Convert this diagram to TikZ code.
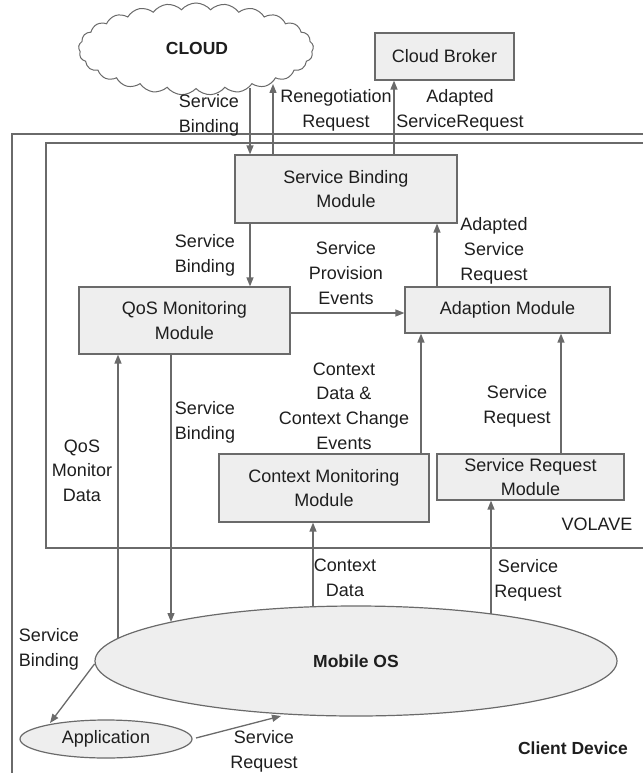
\documentclass[tikz,border=0pt]{standalone}
\usepackage{fontspec}
\setmainfont{Liberation Sans}
\usetikzlibrary{arrows.meta,shapes.geometric,shapes.symbols}
\definecolor{ln}{HTML}{6A6A6A}
\definecolor{bx}{HTML}{EEEEEE}
\definecolor{tx}{HTML}{1E1E1E}
\begin{document}
\begin{tikzpicture}[x=1pt,y=-1pt,
  every node/.style={text=tx, font=\fontsize{18}{24.7}\selectfont},
  box/.style={draw=ln, fill=bx, line width=1.2pt, inner sep=0pt, align=center},
  lbl/.style={align=center, inner sep=0pt},
  bold/.style={font=\fontsize{17.5}{24.7}\selectfont\bfseries},
  arr/.style={draw=ln, line width=1.3pt, -{Triangle[length=9pt,width=7pt]}},
  frame/.style={draw=ln}
  ]
\useasboundingbox (0,0) rectangle (642,773);
% frames
\draw[frame, line width=2.2pt] (12,774) -- (12,134) -- (644,134);
\draw[frame, line width=1.2pt] (644,143) -- (46,143) -- (46,548) -- (644,548);
% nodes
\node[cloud, draw=ln, fill=white, line width=1pt, cloud puffs=25, cloud puff arc=100, aspect=2.6,
      minimum width=235, minimum height=92, inner sep=0pt] (cloud) at (196,49) {};
\node[bold] (cloudt) at (197,48) {CLOUD};
\node[box, minimum width=139, minimum height=47] (broker) at (444.5,56.5) {Cloud Broker};
\node[box, minimum width=222, minimum height=68] (sbm) at (346,189) {Service Binding\\Module};
\node[box, minimum width=211, minimum height=67] (qos) at (184.5,320.5) {QoS Monitoring\\Module};
\node[box, minimum width=205, minimum height=46] (adapt) at (507.5,310) {Adaption Module};
\node[box, minimum width=210, minimum height=68] (cmm) at (324,488) {Context Monitoring\\Module};
\node[box, minimum width=187, minimum height=46] (srm) at (530.5,477) {Service Request\\Module};
\node[ellipse, draw=ln, fill=bx, line width=1.2pt, minimum width=522, minimum height=110, inner sep=0pt,
      bold] (mos) at (356,661) {Mobile OS};
\node[ellipse, draw=ln, fill=bx, line width=1.2pt, minimum width=172, minimum height=38, inner sep=0pt]
      (app) at (106,739) {Application};
% coordinates
\coordinate (cl1) at (250,88);
\coordinate (cl2) at (273,84);
\coordinate (xb) at (394,0);
\coordinate (x250) at (250,0);
\coordinate (x437) at (437,0);
\coordinate (y312) at (0,313);
\coordinate (x421) at (421,0);
\coordinate (x561) at (561,0);
\coordinate (os1) at (118,638);
\coordinate (os2) at (171,622);
\coordinate (os3) at (313,606.7);
\coordinate (os4) at (491,614);
\coordinate (os5) at (94.5,664);
\coordinate (os6) at (281,716);
\coordinate (ap1) at (50,723);
\coordinate (ap2) at (196,738);
% connectors
\draw[arr] (cl1) -- (cl1 |- sbm.north);
\draw[arr] (cl2 |- sbm.north) -- (cl2);
\draw[arr] (sbm.north -| xb) -- (broker.south -| xb);
\draw[arr] (sbm.south -| x250) -- (qos.north -| x250);
\draw[arr] (qos.east |- y312) -- (adapt.west |- y312);
\draw[arr] (adapt.north -| x437) -- (sbm.south -| x437);
\draw[arr] (cmm.north -| x421) -- (adapt.south -| x421);
\draw[arr] (srm.north -| x561) -- (adapt.south -| x561);
\draw[arr] (os1) -- (os1 |- qos.south);
\draw[arr] (os2 |- qos.south) -- (os2);
\draw[arr] (os3) -- (os3 |- cmm.south);
\draw[arr] (os4) -- (os4 |- srm.south);
\draw[arr] (os5) -- (ap1);
\draw[arr] (ap2) -- (os6);
% labels
\node[lbl] (l1) at (209,115) {Service\\Binding};
\node[lbl] (l2) at (336,110.5) {Renegotiation\\Request};
\node[lbl] (l3) at (460,110.5) {Adapted\\ServiceRequest};
\node[lbl] (l4) at (205,255) {Service\\Binding};
\node[lbl] (l5) at (346,273) {Service\\Provision\\Events};
\node[lbl] (l6) at (494,251) {Adapted\\Service\\Request};
\node[lbl] (l7) at (344,406) {Context\\Data \&\\Context Change\\Events};
\node[lbl] (l8) at (517,406.5) {Service\\Request};
\node[lbl] (l9) at (205,422.5) {Service\\Binding};
\node[lbl] (l10) at (82,470.5) {QoS\\Monitor\\Data};
\node[lbl] (l11) at (345,578) {Context\\Data};
\node[lbl] (l12) at (528,580) {Service\\Request};
\node[lbl] (l13) at (49,649.5) {Service\\Binding};
\node[lbl] (l14) at (264,751) {Service\\Request};
\node[lbl] (volave) at (597,524) {VOLAVE};
\node[bold] (client) at (573,748) {Client Device};
\end{tikzpicture}
\end{document}
